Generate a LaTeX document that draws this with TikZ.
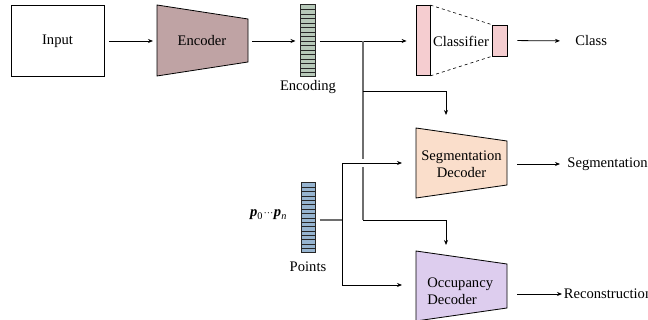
\documentclass[tikz,border=0pt]{standalone}
\usepackage{fontspec}
\setmainfont{Liberation Serif}
\usetikzlibrary{arrows.meta,calc}
\definecolor{encc}{RGB}{191,163,164}
\definecolor{codec}{RGB}{183,201,185}
\definecolor{clsc}{RGB}{245,205,208}
\definecolor{segc}{RGB}{250,222,203}
\definecolor{occc}{RGB}{221,205,238}
\definecolor{ptsc}{RGB}{150,180,208}
\definecolor{brc}{RGB}{110,110,110}
\begin{document}
\begin{tikzpicture}[x=1pt,y=-1pt,
  font=\fontsize{14.6}{17.5}\selectfont,
  line width=0.8pt,
  conn/.style={-{Stealth[length=5pt,width=4pt]}, line width=0.8pt},
  grayline/.style={draw=brc, line width=1.1pt},
  box/.style={draw, line width=0.8pt, minimum width=93pt, minimum height=71pt, inner sep=0pt},
  blk/.style={draw, line width=0.8pt, inner sep=0pt},
  lbl/.style={inner sep=0pt},
  barbox/.style={draw=black!85, line width=1pt, inner sep=0pt, minimum width=14pt}
]
\useasboundingbox (0,0) rectangle (648,320);

% Input
\node[box] (input) at (57.5,41) {Input};

% Encoder
\draw[fill=encc, line width=0.8pt] (157,5) -- (248,19) -- (248,62) -- (157,76) -- cycle;
\node[lbl] (enc) at (202,41) {Encoder};
\coordinate (encL) at (157,41);
\coordinate (encR) at (248,41);
\draw[conn, shorten <=5pt, shorten >=4pt] (input.east) -- (encL);

% Encoding bar
\node[barbox, fill=codec, minimum width=15pt, minimum height=72pt] (encoding) at (307.5,41) {};
\foreach \i in {1,...,15} {
  \draw[black!85, line width=0.8pt] (300,{5+4.5*\i}) -- (315,{5+4.5*\i});
}
\node[lbl] (encodinglbl) at (308,87) {Encoding};
\draw[conn, shorten <=4pt, shorten >=4pt] (encR) -- (encoding.west);

% Classifier
\node[blk, fill=clsc, minimum width=14pt, minimum height=70pt] (clsA) at (423,40.5) {};
\node[blk, fill=clsc, minimum width=15pt, minimum height=31pt] (clsB) at (499.5,40.5) {};
\draw[dashed, line width=0.6pt] (clsA.north east) -- (clsB.north west);
\draw[dashed, line width=0.6pt] (clsA.south east) -- (clsB.south west);
\node[lbl] (clstext) at (461,41) {Classifier};
\draw[conn, shorten <=4pt, shorten >=9pt] (encoding.east) -- (clsA.west |- encoding.east);
\node[lbl, anchor=west] (class) at (575,41) {Class};
\draw[conn, shorten <=10pt, shorten >=15pt] (clsB.east) -- (class.west);

% Segmentation decoder
\draw[fill=segc, line width=0.8pt] (416,128) -- (507,141) -- (507,185) -- (416,198) -- cycle;
\node[lbl, align=center] (segdec) at (461.5,164) {Segmentation\\Decoder};
\coordinate (segR) at (507,164);
\coordinate (segin) at (446,115);
\coordinate (segL) at (402,163);
\node[lbl, anchor=west] (segout) at (567,164) {Segmentation};
\draw[conn, shorten <=10pt, shorten >=7pt] (segR) -- (segout.west);

% Occupancy decoder
\draw[fill=occc, line width=0.8pt] (416,251) -- (507,264) -- (507,308) -- (416,321) -- cycle;
\node[lbl, align=left, anchor=west] (occdec) at (427,291) {Occupancy\\Decoder};
\coordinate (occR) at (507,294);
\coordinate (occin) at (446,245);
\coordinate (occL) at (402,285);
\node[lbl, anchor=west] (recon) at (563.5,294) {Reconstruction};
\draw[conn, shorten <=10pt, shorten >=1.5pt] (occR) -- (recon.west);

% Branch from encoding
\coordinate (br) at (363,41);
\coordinate (brA) at (363,91);
\coordinate (brB) at (363,220);
\draw[grayline] (br) -- (363,159);
\draw[grayline] (363,167) -- (brB);
\draw[conn] (brA) -| (segin);
\draw[conn] (brB) -| (occin);

% Points
\node[barbox, fill=ptsc, minimum height=70pt] (points) at (308,218) {};
\foreach \i in {1,...,15} {
  \draw[black!85, line width=0.8pt] (301,{183+70/16*\i}) -- (315,{183+70/16*\i});
}
\node[lbl] (pointslbl) at (308,267) {Points};
\node[lbl] (plbl) at (268.5,215) {{\bfseries\itshape p}\textsubscript{0}\kern0.5pt{\fontsize{10}{10}\selectfont ···}\kern0.5pt{\bfseries\itshape p}\textsubscript{\itshape n}};
\coordinate (pj) at (342,220);
\draw[grayline, shorten <=4pt] (points.east |- pj) -- (pj);
\draw[conn] (pj) |- (segL);
\draw[conn] (pj) |- (occL);
\end{tikzpicture}
\end{document}
